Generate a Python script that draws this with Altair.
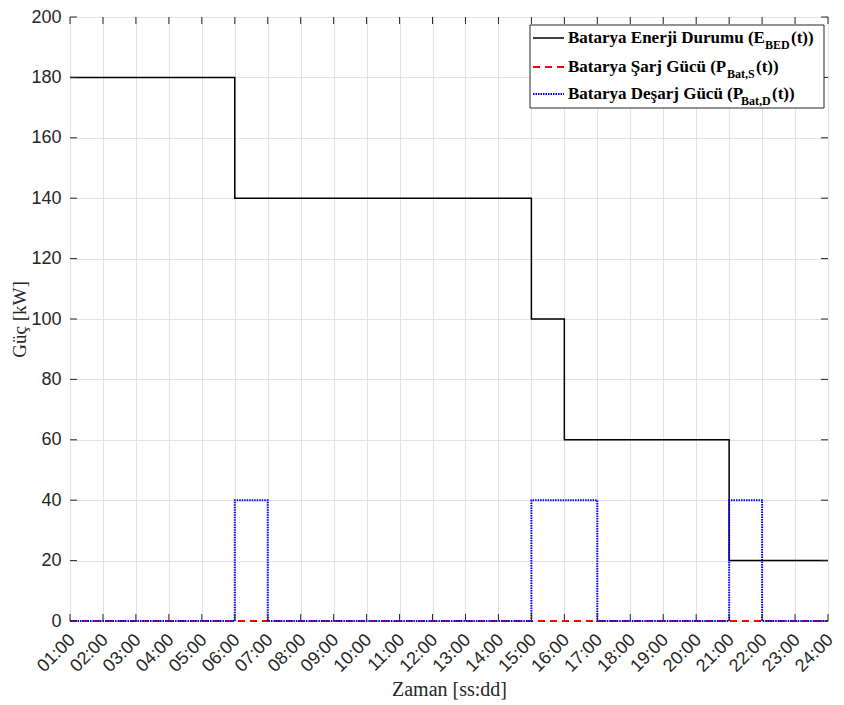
import altair as alt
import pandas as pd

hours = list(range(1, 25))
energy = [180, 180, 180, 180, 180, 140, 140, 140, 140, 140, 140, 140, 140, 140,
          100, 60, 60, 60, 60, 60, 20, 20, 20, 20]
charge = [0] * 24
discharge = [0, 0, 0, 0, 0, 40, 0, 0, 0, 0, 0, 0, 0, 0,
             40, 40, 0, 0, 0, 0, 40, 0, 0, 0]
y_ticks = list(range(0, 201, 20))

W, H = 758, 604

df = pd.DataFrame({"hour": hours, "energy": energy, "charge": charge, "discharge": discharge})
xt = pd.DataFrame({"hour": hours})
yt = pd.DataFrame({"v": y_ticks})
one = pd.DataFrame({"a": [0]})

xscale = alt.Scale(domain=[1, 24], nice=False, zero=False)
yscale = alt.Scale(domain=[0, 200], nice=False)

label_expr = "(datum.value < 10 ? '0' : '') + datum.value + ':00'"

x_axis = alt.Axis(values=hours, labelExpr=label_expr, title="Zaman [ss:dd]",
                  labelAngle=315, labelAlign="right", labelBaseline="middle",
                  labelPadding=16, labelOffset=2, tickSize=0, domain=False,
                  labelOverlap=False, labelBound=False, labelFlush=False, labelSeparation=0,
                  grid=True, gridColor="#e3e3e3", labelFont="Liberation Sans",
                  labelFontSize=18, labelColor="#262626",
                  titleFont="Liberation Serif", titleFontSize=20,
                  titleFontWeight="normal", titleColor="#262626", titlePadding=4)
y_axis = alt.Axis(values=y_ticks, title="Güç [kW]", tickSize=0, domain=False, grid=True,
                  labelOverlap=False, labelFlush=False,
                  gridColor="#e3e3e3", labelFont="Liberation Sans", labelFontSize=18,
                  labelColor="#262626", labelPadding=9, titleFont="Liberation Serif",
                  titleFontSize=19, titleFontWeight="normal", titleColor="#262626",
                  titlePadding=1)

X = alt.X("hour:Q", scale=xscale, axis=x_axis)

energy_line = alt.Chart(df).mark_line(interpolate="step-after", color="#000000", strokeWidth=1.5).encode(
    x=X, y=alt.Y("energy:Q", scale=yscale, axis=y_axis))
charge_line = alt.Chart(df).mark_line(interpolate="step-after", color="#ff0000", strokeWidth=2,
                                      strokeDash=[7, 5]).encode(
    x=X, y=alt.Y("charge:Q", scale=yscale, axis=y_axis))
dis_line = alt.Chart(df).mark_line(interpolate="step-after", color="#0000ff", strokeWidth=2,
                                   strokeDash=[1.5, 1]).encode(
    x=X, y=alt.Y("discharge:Q", scale=yscale, axis=y_axis))

tick_col = "#262626"
xb = alt.Chart(xt).mark_rule(color=tick_col, strokeWidth=1).encode(
    x=X, y=alt.value(H), y2=alt.value(H - 7))
xtp = alt.Chart(xt).mark_rule(color=tick_col, strokeWidth=1).encode(
    x=X, y=alt.value(0), y2=alt.value(7))
yl = alt.Chart(yt).mark_rule(color=tick_col, strokeWidth=1).encode(
    y=alt.Y("v:Q", scale=yscale, axis=y_axis), x=alt.value(0), x2=alt.value(7))
yr = alt.Chart(yt).mark_rule(color=tick_col, strokeWidth=1).encode(
    y=alt.Y("v:Q", scale=yscale, axis=y_axis), x=alt.value(W), x2=alt.value(W - 7))

# legend (pixel layout inside the plot area)
lx0, lx1, ly0, ly1 = 460, 754, 8, 91
box = alt.Chart(one).mark_rect(fill="white", stroke="#262626", strokeWidth=1).encode(
    x=alt.value(lx0), x2=alt.value(lx1), y=alt.value(ly0), y2=alt.value(ly1))

rows = [21, 50, 77]
sample_styles = [
    dict(color="#000000", strokeWidth=1.5),
    dict(color="#ff0000", strokeWidth=2, strokeDash=[7, 5]),
    dict(color="#0000ff", strokeWidth=2, strokeDash=[1.5, 1]),
]
leg_layers = [box]
for ry, st in zip(rows, sample_styles):
    leg_layers.append(alt.Chart(one).mark_rule(**st).encode(
        x=alt.value(463), x2=alt.value(494), y=alt.value(ry), y2=alt.value(ry)))

main_texts = ["Batarya Enerji Durumu (E", "Batarya Şarj Gücü (P", "Batarya Deşarj Gücü (P"]
subs = ["BED", "Bat,S", "Bat,D"]
text_x = 498
sub_x = [695, 657, 671]
tail_x = [721, 686, 702]
font = "Liberation Serif"
for ry, mt, sb, sx, tx in zip(rows, main_texts, subs, sub_x, tail_x):
    leg_layers.append(alt.Chart(one).mark_text(font=font, fontSize=17, fontWeight="bold", align="left",
                                               baseline="middle", color="#000000").encode(
        x=alt.value(text_x), y=alt.value(ry), text=alt.value(mt)))
    leg_layers.append(alt.Chart(one).mark_text(font=font, fontSize=12, fontWeight="bold", align="left",
                                               baseline="middle", color="#000000").encode(
        x=alt.value(sx), y=alt.value(ry + 7), text=alt.value(sb)))
    leg_layers.append(alt.Chart(one).mark_text(font=font, fontSize=17, fontWeight="bold", align="left",
                                               baseline="middle", color="#000000").encode(
        x=alt.value(tx), y=alt.value(ry), text=alt.value("(t))")))

chart = alt.layer(energy_line, charge_line, dis_line, xb, xtp, yl, yr, *leg_layers).properties(
    width=W, height=H,
    autosize=alt.AutoSizeParams(type="none"),
    padding={"left": 62, "top": 9, "right": 8, "bottom": 80},
).configure_view(
    stroke="#262626", strokeWidth=1
).configure_axis(
    labelOverlap=False
).configure(background="white")

chart.save("out.html", embed_options={"renderer": "svg", "actions": False})
